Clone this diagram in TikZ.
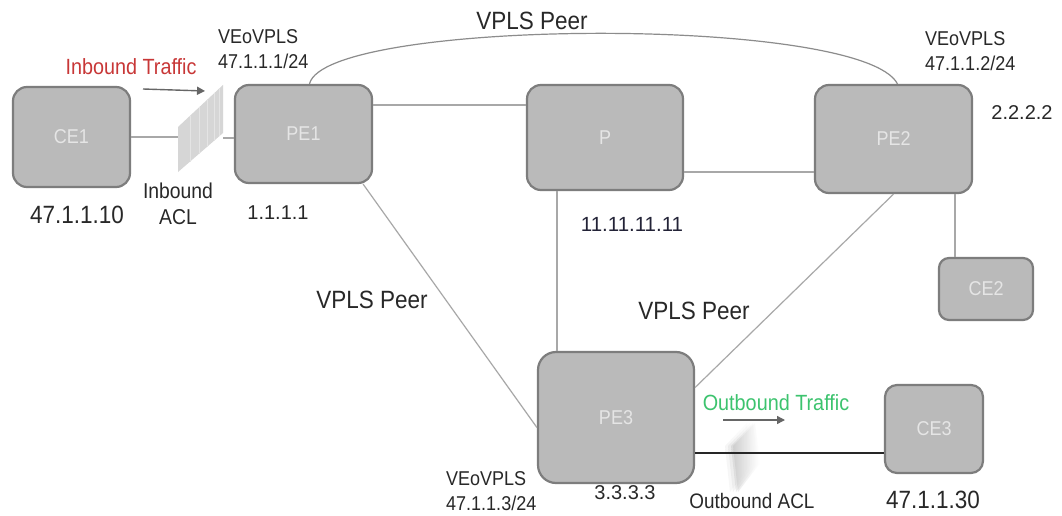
\documentclass[tikz,border=0pt]{standalone}
\usepackage{fontspec}
\setmainfont{Liberation Sans}[FakeStretch=0.9]
\newfontfamily\numfont{Liberation Sans}
\usetikzlibrary{calc,arrows.meta}
\definecolor{boxfill}{RGB}{186,186,186}
\definecolor{boxdraw}{RGB}{125,125,125}
\definecolor{linkc}{RGB}{168,168,168}
\definecolor{arcc}{RGB}{140,140,140}
\definecolor{txt}{RGB}{40,40,40}
\definecolor{numc}{RGB}{35,35,55}
\definecolor{inred}{RGB}{200,55,55}
\definecolor{outgreen}{RGB}{60,195,110}
\definecolor{aclfill}{RGB}{214,214,214}
\newcommand{\fs}[1]{\fontsize{#1}{#1}\selectfont}
\tikzset{
  dev/.style={draw=boxdraw, line width=2.2pt, fill=boxfill, rounded corners=14pt,
    text=white!90!black, font=\fs{20}, inner sep=0pt},
  link/.style={draw=linkc, line width=1.2pt},
  lbl/.style={text=txt, inner sep=0pt},
  flow/.style={draw=gray!80!black, line width=1.4pt, -{Triangle[length=8pt,width=8pt]}}
}
\begin{document}
\begin{tikzpicture}[x=1pt,y=-1pt]
\path[use as bounding box, fill=white] (0,0) rectangle (1062,516);

% devices
\node[dev, minimum width=117pt, minimum height=100pt] (CE1) at (71.5,137) {CE1};
\node[dev, minimum width=137pt, minimum height=98pt] (PE1) at (303.5,134) {PE1};
\node[dev, minimum width=156pt, minimum height=105pt] (P) at (605,137.5) {P};
\node[dev, minimum width=157pt, minimum height=108pt] (PE2) at (893.5,139) {PE2};
\node[dev, minimum width=94pt, minimum height=62pt, rounded corners=10pt] (CE2) at (986,289) {CE2};
\node[dev, minimum width=156pt, minimum height=131pt, rounded corners=18pt] (PE3) at (616,417.5) {PE3};
\node[dev, minimum width=98pt, minimum height=88pt, rounded corners=12pt] (CE3) at (934,429) {CE3};

% inbound ACL
\coordinate (acl1) at (178,137);
\coordinate (acl2) at (223,138);
\fill[aclfill] (178,127) -- (223,85) -- (223,133) -- (178,172) -- cycle;
\foreach \xx in {190,199,207,214,219}
  \draw[white!35!aclfill, line width=0.8pt] (\xx,{127-(\xx-178)*42/45}) -- (\xx,{172-(\xx-178)*39/45});

% outbound ACL (soft, blurred panel)
\foreach \dx/\op in {-6/0.10,-3/0.15,0/0.25,2/0.25}
  \shade[left color=gray!70, right color=white, opacity=\op]
    ({731+\dx},446) -- ({753+\dx},423) -- ({758+\dx},463) -- ({736+\dx},492) -- cycle;

% links
\draw[link] (CE1.east |- acl1) -- (acl1);
\draw[link] (acl2) -- (acl2 -| PE1.west);
\coordinate (y1) at (0,105);
\draw[link] (y1 -| PE1.east) -- (y1 -| P.west);
\coordinate (y2) at (0,172);
\draw[link] (y2 -| P.east) -- (y2 -| PE2.west);
\draw[draw=arcc, line width=1.2pt] ($(PE1.north)+(6,0)$) .. controls (325,18) and (862,15) .. ($(PE2.north)+(4,0)$);
\draw[link] ($(PE1.south east)+(-10,0)$) -- ($(PE3.west)+(0,10)$);
\coordinate (x1) at (557,0);
\draw[link] (x1 |- P.south) -- (x1 |- PE3.north);
\draw[link] (PE2.south) -- ($(PE3.east)+(0,-30)$);
\coordinate (x2) at (955,0);
\draw[link] (x2 |- PE2.south) -- (x2 |- CE2.north);
\coordinate (y3) at (0,453);
\draw[draw=black!85, line width=1.5pt] (y3 -| PE3.east) -- (y3 -| CE3.west);

% traffic arrows
\coordinate (ia) at (143,89);
\coordinate (ib) at (205,91);
\draw[flow] (ia) -- (ib);
\coordinate (oa) at (723,420);
\coordinate (ob) at (785,420);
\draw[flow] (oa) -- (ob);

% labels
\node[lbl, text=inred, font=\fs{22}] (tin) at (131,67) {Inbound Traffic};
\node[lbl, text=outgreen, font=\fs{22}] (tout) at (776,403) {Outbound Traffic};
\node[lbl, font=\fs{21.5}, align=center] (iacl) at (178,204) {Inbound\\[4pt]ACL};
\node[lbl, font=\fs{21}] (oacl) at (752,501) {Outbound ACL};
\node[lbl, font=\fs{20}, align=left, anchor=west] (v1) at (218,49) {VEoVPLS\\[5pt]47.1.1.1/24};
\node[lbl, font=\fs{20}, align=left, anchor=west] (v2) at (925,51) {VEoVPLS\\[5pt]47.1.1.2/24};
\node[lbl, font=\fs{20}, align=left, anchor=west] (v3) at (446,491) {VEoVPLS\\[5pt]47.1.1.3/24};
\node[lbl, font=\fs{25}] (pp1) at (532,21) {VPLS Peer};
\node[lbl, font=\fs{25}] (pp2) at (372,300) {VPLS Peer};
\node[lbl, font=\fs{25}] (pp3) at (694,311) {VPLS Peer};
\node[lbl, font=\fs{25}] (ip1) at (77,215) {47.1.1.10};
\node[lbl, font=\fs{25}] (ip3) at (933,500) {47.1.1.30};
\node[lbl, font=\numfont\fs{20}] (r1) at (278,213) {1.1.1.1};
\node[lbl, font=\numfont\fs{20}] (r2) at (1022,113) {2.2.2.2};
\node[lbl, font=\numfont\fs{20}] (r3) at (625,493) {3.3.3.3};
\node[lbl, font=\numfont\fs{20.5}, text=numc] (rp) at (632,224) {11.11.11.11};
\end{tikzpicture}
\end{document}
